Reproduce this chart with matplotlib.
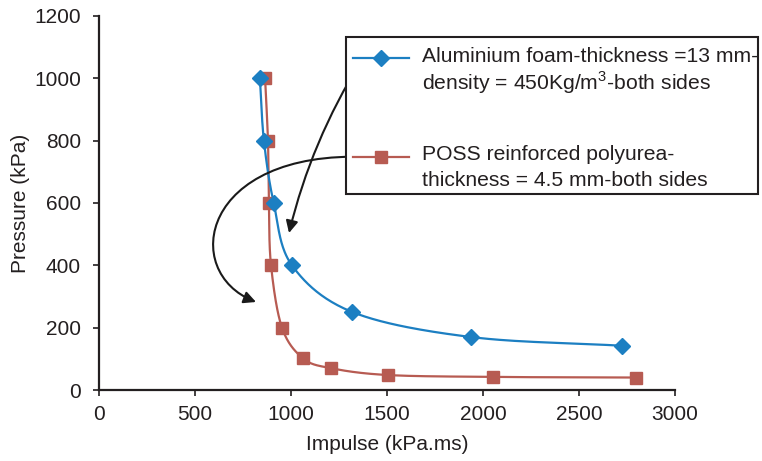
import numpy as np
import matplotlib
matplotlib.use("Agg")
import matplotlib.pyplot as plt
from matplotlib.lines import Line2D
from matplotlib.patches import Rectangle, FancyArrowPatch
from matplotlib.path import Path

plt.rcParams['font.family'] = ['Liberation Sans', 'DejaVu Sans']
plt.rcParams['mathtext.fontset'] = 'custom'
plt.rcParams['mathtext.rm'] = 'Liberation Sans'

# ---- data ----
alu_impulse = [838, 859, 910, 1005, 1320, 1937, 2724]
alu_pressure = [1000, 800, 600, 400, 250, 170, 142]

poss_impulse = [865, 880, 885, 896, 953, 1062, 1208, 1505, 2052, 2795]
poss_pressure = [1000, 800, 600, 400, 200, 102, 70, 48, 42, 40]

x_ticks = [0, 500, 1000, 1500, 2000, 2500, 3000]
y_ticks = [0, 200, 400, 600, 800, 1000, 1200]

alu_label = ["Aluminium foam-thickness =13 mm-",
             "density = 450Kg/m$^3$-both sides"]
poss_label = ["POSS reinforced polyurea-",
              "thickness = 4.5 mm-both sides"]

blue = "#1c7fc2"
red = "#b75b52"
txt = "#231f20"
FS = 15

W, H = 762, 461
fig = plt.figure(figsize=(W / 100, H / 100), dpi=100)
ax = fig.add_axes([99 / W, 1 - 390 / H, (675 - 99) / W, (390 - 16) / H])
ax.set_xlim(0, 3000)
ax.set_ylim(0, 1200)


def smooth(xs, ys, n=40):
    pts = ax.transData.transform(np.column_stack([xs, ys]))
    P = np.vstack([2 * pts[0] - pts[1], pts, 2 * pts[-1] - pts[-2]])
    out = []
    t = np.linspace(0, 1, n)[:, None]
    for i in range(1, len(P) - 2):
        p0, p1, p2, p3 = P[i - 1], P[i], P[i + 1], P[i + 2]
        seg = 0.5 * ((2 * p1) + (-p0 + p2) * t
                     + (2 * p0 - 5 * p1 + 4 * p2 - p3) * t ** 2
                     + (-p0 + 3 * p1 - 3 * p2 + p3) * t ** 3)
        out.append(seg)
    c = np.vstack(out)
    return ax.transData.inverted().transform(c).T


bx, by = smooth(alu_impulse, alu_pressure)
rx, ry = smooth(poss_impulse, poss_pressure)
ax.plot(bx, by, color=blue, lw=1.6, zorder=3)
ax.plot(rx, ry, color=red, lw=1.6, zorder=2)
ax.plot(alu_impulse, alu_pressure, ls='none', marker='D', ms=8, color=blue, zorder=4)
ax.plot(poss_impulse, poss_pressure, ls='none', marker='s', ms=9, color=red, zorder=3)

for s in ['top', 'right']:
    ax.spines[s].set_visible(False)
for s in ['left', 'bottom']:
    ax.spines[s].set_color(txt)
    ax.spines[s].set_linewidth(1.6)
ax.set_xticks(x_ticks)
ax.set_yticks(y_ticks)
ax.tick_params(direction='out', length=4, width=1.2, colors=txt, labelsize=FS)
ax.tick_params(axis='y', pad=9)
ax.tick_params(axis='x', pad=7)
ax.set_xlabel("Impulse (kPa.ms)", fontsize=FS, color=txt, labelpad=8)
ax.set_ylabel("Pressure (kPa)", fontsize=FS, color=txt, labelpad=3)

# ---- legend (manual) ----
fig.add_artist(Rectangle((346 / W, 1 - 194 / H), (758 - 346) / W, (194 - 37) / H,
                         transform=fig.transFigure, facecolor='white',
                         edgecolor=txt, lw=1.5, zorder=5))
for yl, col, mk, ms, lines, ys in [
        (58, blue, 'D', 8, alu_label, (57, 83)),
        (157, red, 's', 9, poss_label, (154, 180))]:
    fig.add_artist(Line2D([353 / W, 409 / W], [1 - yl / H] * 2, color=col, lw=1.6,
                          transform=fig.transFigure, zorder=6))
    fig.add_artist(Line2D([381 / W], [1 - yl / H], color=col, marker=mk, ms=ms,
                          transform=fig.transFigure, zorder=7))
    for line, yy in zip(lines, ys):
        fig.text(422 / W, 1 - yy / H, line, fontsize=15.2, color=txt, va='center',
                 ha='left', zorder=8)

# ---- arrows ----
def px2d(px, py):
    return ((px - 99) / 576 * 3000, (390 - py) / 374 * 1200)

a1s = px2d(361, 61)
a1e = px2d(289, 233)
ax.annotate('', xy=a1e, xytext=a1s, annotation_clip=False,
            arrowprops=dict(arrowstyle='-|>', connectionstyle='arc3,rad=0.08',
                            color='#1a1a1a', lw=1.5, mutation_scale=18,
                            shrinkA=0, shrinkB=0), zorder=9)

verts = [px2d(368, 157), px2d(200, 150), px2d(180, 272), px2d(256, 302)]
codes = [Path.MOVETO, Path.CURVE4, Path.CURVE4, Path.CURVE4]
arr2 = FancyArrowPatch(path=Path(verts, codes), arrowstyle='-|>', color='#1a1a1a',
                       lw=1.5, mutation_scale=18, zorder=9, clip_on=False)
ax.add_patch(arr2)

fig.savefig("out.png", dpi=100)
